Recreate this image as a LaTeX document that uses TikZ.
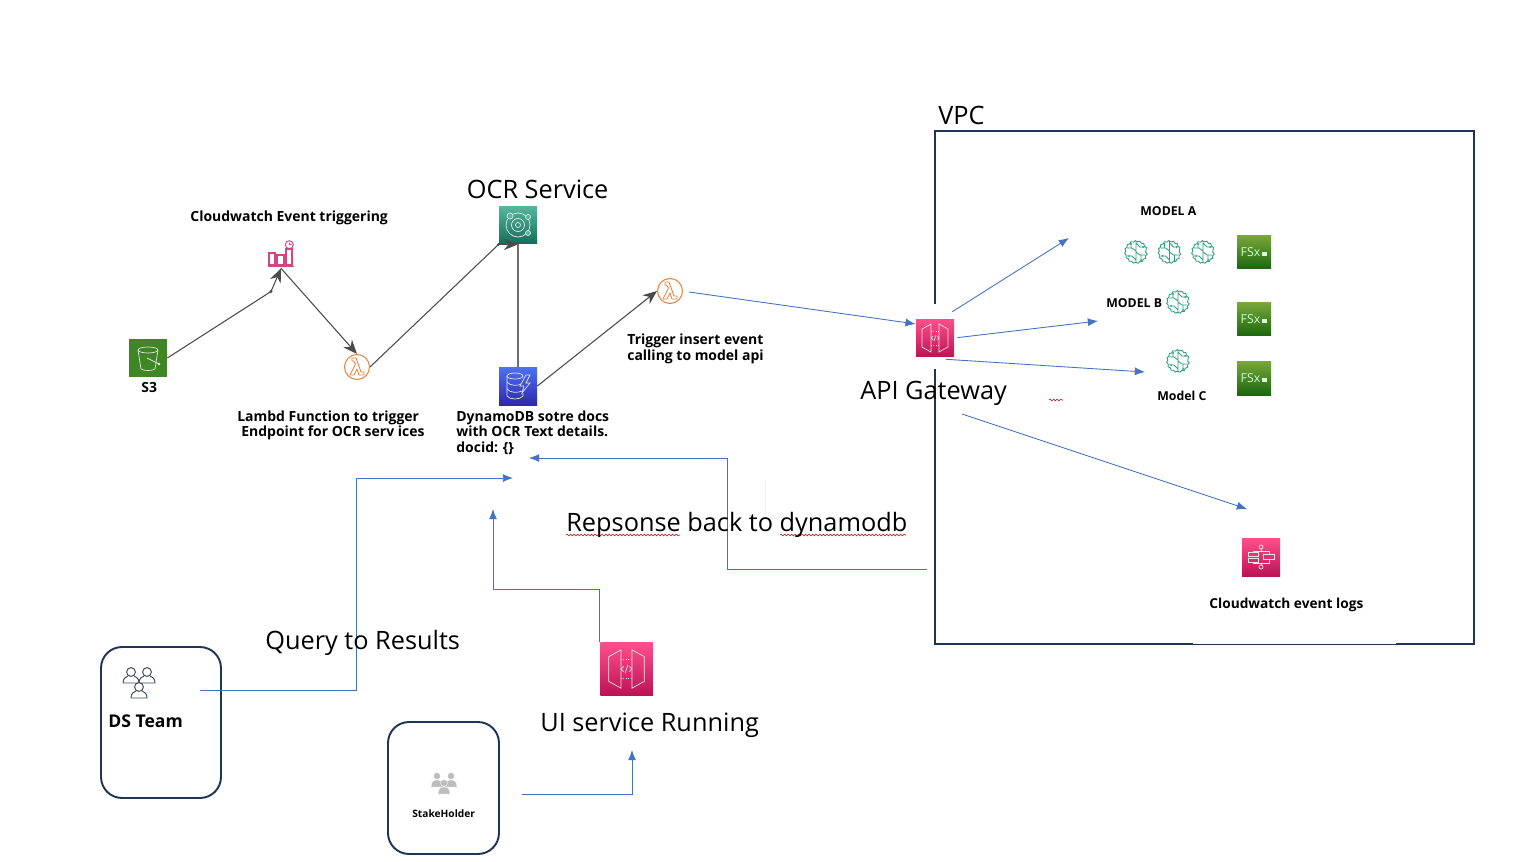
\documentclass[tikz,border=0pt]{standalone}
\usepackage{fontspec}
\setmainfont{Open Sans}
\usetikzlibrary{arrows.meta,decorations.pathmorphing}
\definecolor{navyline}{HTML}{1F3557}
\definecolor{linkblue}{HTML}{4472C4}
\definecolor{flowgray}{HTML}{4A4A4A}
\definecolor{lamorange}{HTML}{E8833A}
\definecolor{cwpink}{HTML}{D6457F}
\definecolor{brainteal}{HTML}{2E9E84}
\definecolor{teamgray}{HTML}{3C4A5E}
\definecolor{stakegray}{HTML}{BDBDBD}
\definecolor{s3green}{HTML}{3F8624}
\definecolor{ocrtop}{HTML}{55B89B}
\definecolor{ocrlow}{HTML}{116D5B}
\definecolor{dynotop}{HTML}{4D72F3}
\definecolor{dynolow}{HTML}{2E27AD}
\definecolor{apitop}{HTML}{FF4F8B}
\definecolor{apilow}{HTML}{BC1356}
\definecolor{fsxtop}{HTML}{7AA83A}
\definecolor{fsxlow}{HTML}{1B660F}
\tikzset{>={Latex[length=5.8pt,width=4.6pt]}}
\tikzset{
  bigtxt/.style={inner sep=0,anchor=west,font=\fontsize{14.4}{17}\selectfont},
  boldtxt/.style={inner sep=0,anchor=west,align=left,font=\fontsize{7.95}{8.75}\selectfont\bfseries},
  tinytxt/.style={inner sep=0,anchor=west,font=\fontsize{7}{8}\selectfont\bfseries},
  blueline/.style={color=linkblue,line width=0.5pt},
  flowline/.style={color=flowgray,line width=0.6pt},
  flowtip/.style={flowline,-{Stealth[length=8pt,width=6.5pt]}},
  teambox/.style={draw=navyline,line width=1.1pt,rounded corners=0.42cm,inner sep=0},
  iconline/.style={white!90!black,line width=0.4pt},
  icon/.style={inner sep=0,minimum size=0.76cm},
  s3icon/.style={icon,fill=s3green},
  ocricon/.style={icon,top color=ocrtop,bottom color=ocrlow},
  dynoicon/.style={icon,top color=dynotop,bottom color=dynolow},
  apiicon/.style={icon,top color=apitop,bottom color=apilow},
  fsxicon/.style={inner sep=0,minimum size=0.68cm,top color=fsxtop,bottom color=fsxlow,text=white!80!green,font=\fontsize{7}{8}\selectfont},
  lamicon/.style={circle,draw=lamorange,line width=0.6pt,inner sep=0,minimum size=0.5cm},
  cwicon/.style={inner sep=0,minimum size=0.52cm},
  brainpath/.style={brainteal,line width=0.5pt},
  squiggle/.style={red!75!black,line width=0.3pt,decorate,decoration={snake,segment length=2pt,amplitude=0.5pt}},
  bucket/.pic={
    \draw[iconline] (0,-8) ellipse [x radius=10,y radius=3];
    \draw[iconline] (-10,-8) -- (-7,11) .. controls (-4,13) and (4,13) .. (7,11) -- (10,-8);
    \draw[iconline] (-1,0) -- (11,6) circle (1);
  },
  lampath/.pic={
    \draw[lamorange,line width=0.5pt,line join=round] (-7,8) -- (-1.5,-3) -- (-3.5,-6) -- (-5,-6) -- (-5,-9) -- (-1,-9) -- (4,5) -- (7,5) -- (7,8) -- (2,8) -- (0,2) -- (-3,8) -- cycle;
  },
  cwchart/.pic={
    \draw[cwpink,line width=0.6pt] (-13,11.5) -- (13,11.5) (-12,10) rectangle (-6,-2) (-4,10) rectangle (3,0) (5,10) rectangle (11,-6);
    \draw[cwpink,line width=0.55pt] (8.3,-10.3) circle (4) (8.3,-12.5) -- (8.3,-10.3) -- (10.5,-10.3);
  },
  ocrmark/.pic={
    \draw[iconline] (0,0) circle (12);
    \draw[iconline] (0,0) circle (6.5) (0,0) circle (2.5);
    \filldraw[iconline,fill=ocrtop] (-8,-9) circle (3) (10,-8) circle (2.5) (10,8) circle (2.5);
  },
  dynomark/.pic={
    \draw[iconline] (-3,-10) ellipse [x radius=8,y radius=3];
    \draw[iconline] (-11,-10) -- (-11,10) .. controls (-8,14) and (2,14) .. (5,10) -- (5,7);
    \draw[iconline] (-11,-4) .. controls (-8,0) and (0,0) .. (3,-2) (-11,3) .. controls (-8,7) and (0,7) .. (4,5);
    \draw[iconline] (8,-11) -- (2,0) -- (6,0) -- (4,7) -- (12,-3) -- (8,-3) -- (12,-11) -- cycle;
  },
  gateway/.pic={
    \draw[iconline] (-4,-14) -- (-13,-9) -- (-13,9) -- (-4,14) -- cycle;
    \draw[iconline] (4,-14) -- (13,-9) -- (13,9) -- (4,14) -- cycle;
    \draw[iconline,densely dotted] (-4,-7) -- (4,-7) (-4,7) -- (4,7);
    \draw[iconline] (-2,-2) -- (-4,0) -- (-2,2) (2,-2) -- (4,0) -- (2,2) (1,-3) -- (-1,3);
  },
  stepmark/.pic={
    \draw[iconline] (0,-10) circle (2) (0,10) circle (2);
    \draw[iconline] (-13,-5) rectangle (-3,-1) (-13,1) rectangle (-3,5) (2,-2.5) rectangle (13,2.5);
    \draw[iconline] (0,-8) -- (0,-6) (0,6) -- (0,8) (-8,-5) -- (-8,-6) -- (8,-6) -- (8,-2.5) (-8,5) -- (-8,6) -- (8,6) -- (8,2.5);
  },
  brain/.pic={
    \draw[brainpath,decorate,decoration={bumps,segment length=4.4pt,amplitude=1pt}] (0,0) circle (9.5);
    \draw[brainpath] (0,-11) -- (0,11) (-9,-4) -- (-4,-4) -- (0,-1) (-9,4) -- (-4,4) -- (0,8) (-5,-9) -- (-5,-4) (9,-5) -- (4,-5) -- (0,-9) (9,3) -- (4,3) -- (0,0) (5,3) -- (5,9);
    \fill[brainteal] (-5,-8) circle (1) (-7,4) circle (1) (7,-5) circle (1) (5,8) circle (1);
  },
  person/.pic={
    \draw[teamgray,line width=0.55pt,fill=white] (0,-3) circle (4.4);
    \draw[teamgray,line width=0.55pt] (-8,8) .. controls (-8,3) and (-5,2) .. (-3,1) (3,1) .. controls (5,2) and (8,3) .. (8,8) -- (-8,8);
  },
  solidperson/.pic={
    \fill[stakegray,draw=white,line width=0.2pt] (0,-4) circle (3.5) (-6,7) .. controls (-6,1) and (-3,0) .. (0,0) .. controls (3,0) and (6,1) .. (6,7) -- cycle;
  },
}
\newcommand{\fsxmark}{FSx\,\tikz\fill[white!85!green] (0,0) rectangle (5,-4);}
\begin{document}
\begin{tikzpicture}[x=0.02cm,y=-0.02cm]

\useasboundingbox (0,0) rectangle (1532,862);

\draw[navyline,line width=1.1pt] (935,304)--(935,131)--(1474,131)--(1474,644)--(935,644)--(935,369);
\draw[white,line width=0.5pt] (1193,643.2)--(1396,643.2);

\node[s3icon] (s3) at (148,358) {};
\pic at (s3) {bucket};
\node[cwicon] (cwEvent) at (281,255) {};
\pic at (cwEvent) {cwchart};
\node[lamicon] (lamOcr) at (357,367) {};
\pic at (lamOcr) {lampath};
\node[ocricon] (ocr) at (518,225) {};
\pic at (ocr) {ocrmark};
\node[dynoicon] (dynamo) at (518,386) {};
\pic at (dynamo) {dynomark};
\node[lamicon] (lamModel) at (670,291) {};
\pic at (lamModel) {lampath};
\node[apiicon] (apiGw) at (935,338) {};
\pic at (apiGw) {gateway};
\node[apiicon,minimum size=1.05cm] (apiUi) at (626.5,669) {};
\pic[scale=1.37] at (apiUi) {gateway};
\node[apiicon] (stepLogs) at (1261,557) {};
\pic at (stepLogs) {stepmark};

\node[fsxicon] (fsxA) at (1254,252) {\fsxmark};
\node[fsxicon] (fsxB) at (1254,319) {\fsxmark};
\node[fsxicon] (fsxC) at (1254,378) {\fsxmark};

\pic at (1136,252) {brain};
\pic at (1169.5,252) {brain};
\pic at (1203,252) {brain};
\pic at (1178,302) {brain};
\pic at (1178,361) {brain};

\node[teambox,minimum width=2.4cm,minimum height=3.02cm] (dsTeam) at (161,722.5) {};
\node[teambox,minimum width=2.22cm,minimum height=2.64cm] (stakeBox) at (443.5,788) {};
\pic at (131,675) {person};
\pic at (147,675) {person};
\pic at (139,690) {person};
\pic at (437,780) {solidperson};
\pic at (451,780) {solidperson};
\pic at (444,787) {solidperson};

\coordinate (cwBend) at (271,291.5);
\coordinate (lamOut) at (689,292);
\coordinate (modelAtip) at (1069,238);
\coordinate (modelBtip) at (1098,321);
\coordinate (modelCtip) at (1145,372);
\coordinate (logTail) at (962,414);
\coordinate (logTip) at (1247,509);
\coordinate (vpcOut) at (927,569);
\coordinate (dynoTipA) at (529,458);
\coordinate (dsOut) at (200,690);
\coordinate (dynoTipB) at (513,478);
\coordinate (dynoTipC) at (493,509);
\coordinate (stakeOut) at (522,794);
\coordinate (uiTip) at (632,750);

\draw[flowtip] (s3.east)--(cwBend)--(cwEvent.south);
\fill[flowgray] (cwBend) circle (1.6);
\draw[flowtip] (cwEvent.south)--(lamOcr.north);
\draw[flowline] (lamOcr.east)--(ocr.south west);
\fill[flowgray] (ocr.south west) circle (1.6);
\draw[flowtip] (ocr.south west)--(ocr.south);
\draw[color=flowgray!80,line width=0.8pt] (dynamo.north)--(ocr.south);
\draw[flowtip] (dynamo.east)--(lamModel.west);

\draw[blueline,->] (lamOut)--(apiGw.144);
\draw[blueline,->,shorten <=7.4pt] (apiGw.72.5)--(modelAtip);
\draw[blueline,->,shorten <=1.7pt] (apiGw.east)--(modelBtip);
\draw[blueline,->,shorten <=17.1pt] (apiGw.south west)--(modelCtip);
\draw[blueline,->] (logTail)--(logTip);
\draw[blueline,->] (vpcOut)-|(727.5,458)--(dynoTipA);
\draw[blueline,->] (dsOut)-|(356.5,478)--(dynoTipB);
\draw[blueline,->] (apiUi.north west)|-(493,589)--(dynoTipC);
\draw[blueline,->] (stakeOut)-|(uiTip);

\draw[red!8,line width=0.4pt] (765,480)--(765,515);
\draw[squiggle] (566,535)--(680,535);
\draw[squiggle] (780,535)--(906,535);
\draw[squiggle] (1049,400)--(1063,400);

\node[bigtxt] (vpcLabel) at (938,115) {VPC};
\node[bigtxt] (ocrLabel) at (466.5,189) {OCR Service};
\node[bigtxt] (apiLabel) at (860,393) {API Gateway};
\node[bigtxt] (respLabel) at (566,525) {Repsonse back to dynamodb};
\node[bigtxt] (queryLabel) at (265,643) {Query to Results};
\node[bigtxt] (uiLabel) at (540,725) {UI service Running};

\node[boldtxt] (cwLabel) at (190,218) {Cloudwatch Event triggering};
\node[boldtxt] (s3Label) at (141,388) {S3};
\node[boldtxt] (lamLabel) at (237,425.5) {Lambd Function to trigger\\\hspace*{2.3pt}Endpoint for OCR serv ices};
\node[boldtxt] (dynoLabel) at (456,432.5) {DynamoDB sotre docs\\with OCR Text details.\\docid: \{\}};
\node[boldtxt] (trigLabel) at (627,349) {Trigger insert event\\calling to model api};
\node[tinytxt] (modelA) at (1140,211) {MODEL A};
\node[tinytxt] (modelB) at (1106,303) {MODEL B};
\node[boldtxt,font=\fontsize{7}{8}\selectfont\bfseries] (modelC) at (1157,396) {Model C};
\node[boldtxt,font=\fontsize{7.8}{8.75}\selectfont\bfseries] (logLabel) at (1209,605) {Cloudwatch event logs};
\node[boldtxt,font=\fontsize{10}{11}\selectfont\bfseries] (dsLabel) at (108,721) {DS Team};
\node[tinytxt,font=\fontsize{5.8}{7}\selectfont\bfseries] (stakeLabel) at (412,814) {StakeHolder};

\end{tikzpicture}
\end{document}
